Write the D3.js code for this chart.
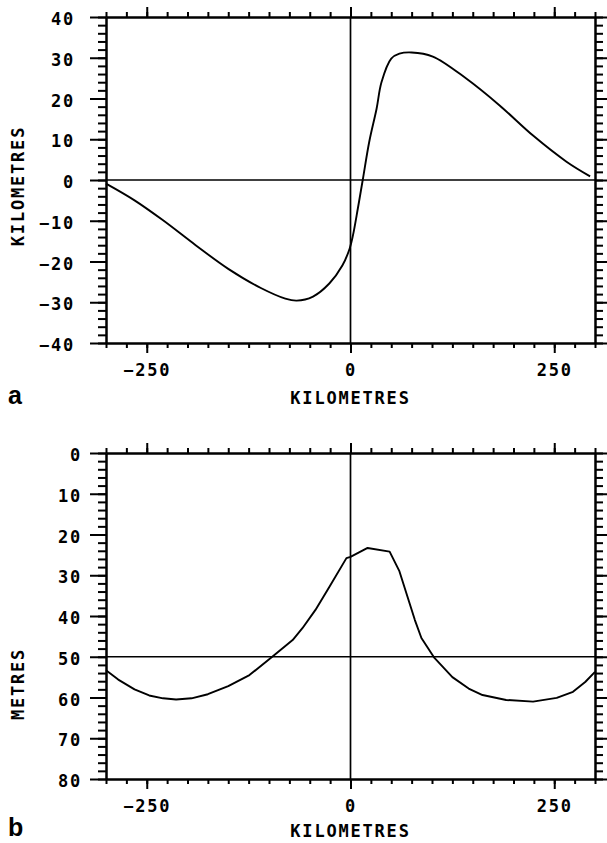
<!DOCTYPE html>
<html>
<head>
<meta charset="utf-8">
<script src="https://cdn.jsdelivr.net/npm/d3@7"></script>
<style>
  html, body { margin: 0; padding: 0; background: #fff; }
  svg { display: block; }
  .mono { font-family: "DejaVu Sans Mono", "Liberation Mono", monospace; font-size: 17px; font-weight: bold; letter-spacing: 1.8px; fill: #000; }
  .panel { font-family: "Liberation Sans", Arial, sans-serif; font-weight: bold; font-size: 25px; fill: #000; }
</style>
</head>
<body>
<script>
// ---- Data ----
// Panel a: horizontal displacement (km) vs distance (km)
const aX = [-300, -265, -230, -190, -150, -110, -80, -66, -46, -26, -10, -1, 3, 9, 15, 23, 32, 38, 50, 60, 75, 101, 142, 183, 224, 265, 294];
const aY = [-0.9, -5, -9.9, -16, -21.8, -26.5, -29.1, -29.6, -28.6, -25.4, -21, -16.8, -13.6, -7, 0, 9.4, 17.5, 24, 29.8, 31, 31.3, 30.3, 24.9, 18.3, 10.9, 4.5, 0.9];
// Panel b: depth (metres) vs distance (km)
const bX = [-300, -285, -265, -247, -230, -214, -195, -175, -150, -124, -96, -71, -59, -43, -26, -5, 0, 21, 48, 60, 79, 87, 103, 125, 145, 162, 191, 224, 253, 273, 288, 300];
const bY = [53.3, 55.6, 58, 59.5, 60.2, 60.5, 60.2, 59.2, 57.2, 54.5, 50, 45.9, 43, 38.5, 32.9, 25.8, 25.5, 23.3, 24.2, 29, 41, 45.4, 50.3, 55, 57.8, 59.4, 60.6, 61, 60.1, 58.6, 56.2, 53.7];

const xMajor = [-250, 0, 250];
const xMinor = d3.range(-300, 301, 25);
const aYMajor = [-40, -30, -20, -10, 0, 10, 20, 30, 40];
const aYMinor = d3.range(-40, 41, 2);
const bYMajor = [0, 10, 20, 30, 40, 50, 60, 70, 80];
const bYMinor = d3.range(0, 81, 2);
const xTitle = "KILOMETRES";
const aYTitle = "KILOMETRES";
const bYTitle = "METRES";

// ---- Drawing ----
const svg = d3.select("body").append("svg").attr("width", 607).attr("height", 843);

function panel(cfg) {
  const x = d3.scaleLinear([-300, 300], [106, 595]);
  const y = d3.scaleLinear(cfg.yDomain, cfg.yRange);
  const g = svg.append("g");
  const styleAxis = sel => {
    sel.select(".domain").attr("stroke", "#000").attr("stroke-width", 2);
    sel.selectAll(".tick line").attr("stroke", "#000").attr("stroke-width", 2);
  };
  const top = Math.min(...y.range());
  const bot = Math.max(...y.range());

  // reference lines
  g.append("line").attr("x1", x(-300)).attr("x2", x(300)).attr("y1", y(cfg.hLine)).attr("y2", y(cfg.hLine))
    .attr("stroke", "#000").attr("stroke-width", 1.7);
  g.append("line").attr("x1", x(0)).attr("x2", x(0)).attr("y1", top).attr("y2", bot)
    .attr("stroke", "#000").attr("stroke-width", 1.7);

  // bottom axis
  g.append("g").attr("transform", `translate(0,${bot})`)
    .call(d3.axisBottom(x).tickValues(xMinor).tickSize(5).tickSizeOuter(0).tickFormat("")).call(styleAxis);
  const bx = g.append("g").attr("transform", `translate(0,${bot})`)
    .call(d3.axisBottom(x).tickValues(xMajor).tickSize(10).tickSizeOuter(0).tickPadding(11).tickFormat(d3.format("d"))).call(styleAxis);
  bx.selectAll("text").attr("class", "mono").attr("font-family", null).attr("font-size", null);
  // top axis
  g.append("g").attr("transform", `translate(0,${top})`)
    .call(d3.axisTop(x).tickValues(xMinor).tickSize(5).tickSizeOuter(0).tickFormat("")).call(styleAxis);
  g.append("g").attr("transform", `translate(0,${top})`)
    .call(d3.axisTop(x).tickValues(xMajor).tickSize(10).tickSizeOuter(0).tickFormat("")).call(styleAxis);
  // left axis
  g.append("g").attr("transform", `translate(${x(-300)},0)`)
    .call(d3.axisLeft(y).tickValues(cfg.yMinor).tickSize(8).tickSizeOuter(0).tickFormat("")).call(styleAxis);
  const ly = g.append("g").attr("transform", `translate(${x(-300)},0)`)
    .call(d3.axisLeft(y).tickValues(cfg.yMajor).tickSize(16).tickSizeOuter(0).tickPadding(cfg.yPad).tickFormat(d3.format("d"))).call(styleAxis);
  ly.selectAll("text").attr("class", "mono").attr("font-family", null).attr("font-size", null).attr("dy", "0.45em");
  // right axis
  g.append("g").attr("transform", `translate(${x(300)},0)`)
    .call(d3.axisRight(y).tickValues(cfg.yMinor).tickSize(8).tickSizeOuter(0).tickFormat("")).call(styleAxis);
  g.append("g").attr("transform", `translate(${x(300)},0)`)
    .call(d3.axisRight(y).tickValues(cfg.yMajor).tickSize(16).tickSizeOuter(0).tickFormat("")).call(styleAxis);

  // curve
  const pts = cfg.xs.map((v, i) => [v, cfg.ys[i]]);
  g.append("path").datum(pts)
    .attr("d", d3.line().x(d => x(d[0])).y(d => y(d[1])).curve(cfg.curve))
    .attr("fill", "none").attr("stroke", "#000").attr("stroke-width", 1.9).attr("stroke-linejoin", "round");

  // titles
  g.append("text").attr("class", "mono").attr("x", x(0)).attr("y", cfg.xTitleY)
    .attr("text-anchor", "middle").text(xTitle);
  g.append("text").attr("class", "mono")
    .attr("transform", `translate(24,${cfg.yTitleY}) rotate(-90)`)
    .attr("text-anchor", "middle").text(cfg.yTitle);
  g.append("text").attr("class", "panel").attr("x", 8).attr("y", cfg.labelY).text(cfg.label);
}

panel({ xs: aX, ys: aY, yDomain: [-40, 40], yRange: [343, 17], yMajor: aYMajor, yMinor: aYMinor, curve: d3.curveCatmullRom.alpha(0.5),
        yPad: 15, hLine: 0, xTitleY: 404, yTitleY: 186, yTitle: aYTitle, label: "a", labelY: 404 });
panel({ xs: bX, ys: bY, yDomain: [0, 80], yRange: [453, 779], yMajor: bYMajor, yMinor: bYMinor, curve: d3.curveLinear,
        yPad: 8, hLine: 50, xTitleY: 837, yTitleY: 684, yTitle: bYTitle, label: "b", labelY: 836 });
</script>
</body>
</html>
